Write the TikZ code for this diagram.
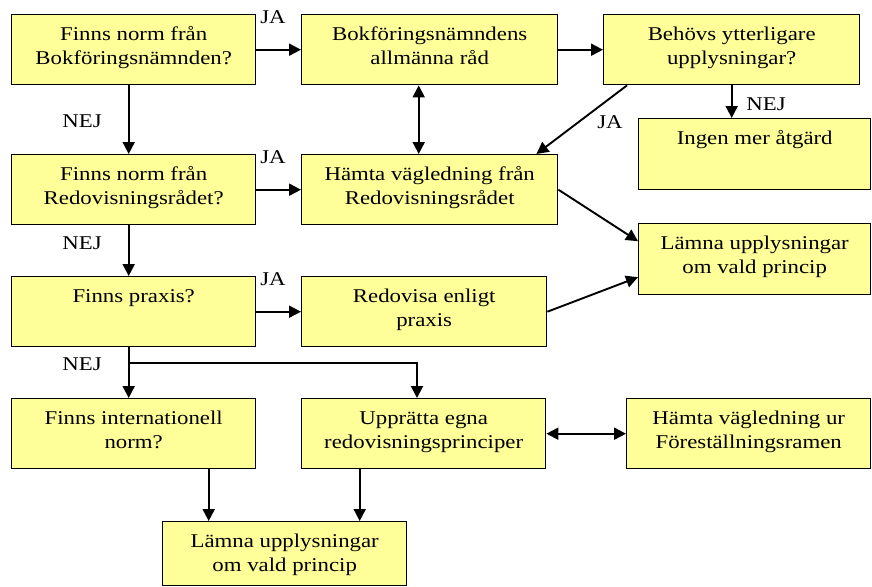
\documentclass[tikz,border=0pt]{standalone}
\usepackage{fontspec}
\setmainfont{Liberation Serif}[FakeStretch=1.17]
\usetikzlibrary{arrows.meta}
\definecolor{boxfill}{RGB}{255,255,153}
\newcommand{\tb}[3]{\parbox[c][#2pt][t]{#1pt}{\centering\rule{0pt}{26pt}#3}}
\begin{document}
\begin{tikzpicture}[x=1pt,y=-1pt,
  box/.style={draw=black, line width=1.4pt, fill=boxfill, inner sep=0pt, anchor=north west, font=\fontsize{19.5}{24}\selectfont},
  arr/.style={line width=1.9pt, -{Triangle[length=12pt,width=12pt]}},
  darr/.style={line width=1.9pt, {Triangle[length=12pt,width=12pt]}-{Triangle[length=12pt,width=12pt]}},
  lbl/.style={font=\fontsize{19.5}{24}\selectfont, inner sep=0pt}]
\useasboundingbox (0,0) rectangle (872,586);
\node[box] (b1) at (11,14) {\tb{244}{70}{Finns norm från\\Bokföringsnämnden?}};
\node[box] (b2) at (301,14) {\tb{256}{70}{Bokföringsnämndens\\allmänna råd}};
\node[box] (b3) at (603,14) {\tb{256}{70}{Behövs ytterligare\\upplysningar?}};
\node[box] (b4) at (638,118) {\tb{232}{71}{Ingen mer åtgärd}};
\node[box] (b5) at (11,154) {\tb{244}{70}{Finns norm från\\Redovisningsrådet?}};
\node[box] (b6) at (301,154) {\tb{256}{70}{Hämta vägledning från\\Redovisningsrådet}};
\node[box] (b7) at (638,223) {\tb{232}{71}{Lämna upplysningar\\om vald princip}};
\node[box] (b8) at (11,276) {\tb{244}{70}{Finns praxis?}};
\node[box] (b9) at (301,276) {\tb{245}{70}{Redovisa enligt\\praxis}};
\node[box] (b10) at (11,398) {\tb{244}{70}{Finns internationell\\norm?}};
\node[box] (b11) at (301,398) {\tb{244}{70}{Upprätta egna\\redovisningsprinciper}};
\node[box] (b12) at (626,398) {\tb{244}{70}{Hämta vägledning ur\\Föreställningsramen}};
\node[box] (b13) at (162,521) {\tb{244}{64}{Lämna upplysningar\\om vald princip}};
% labels
\node[lbl] (ja1) at (273,17) {JA};
\node[lbl] (ja2) at (273,157) {JA};
\node[lbl] (ja3) at (273,279) {JA};
\node[lbl] (ja4) at (610,122) {JA};
\node[lbl] (nej1) at (82,121) {NEJ};
\node[lbl] (nej2) at (82,243) {NEJ};
\node[lbl] (nej3) at (82,364) {NEJ};
\node[lbl] (nej4) at (766,104) {NEJ};
% connectors
\draw[arr] (b1.east) -- (b2.west);
\draw[arr] (b2.east) -- (b3.west);
\draw[arr] ([xshift=-5pt]b1.south) -- ([xshift=-5pt]b5.north);
\draw[darr] ([xshift=-11pt]b2.south) -- ([xshift=-11pt]b6.north);
\draw[arr] (b3.south) -- (b3.south |- b4.north);
\draw[arr] ([xshift=24pt]b3.south west) -- ([xshift=-22pt]b6.north east);
\draw[arr] (b5.east) -- (b6.west);
\draw[arr] (b6.east) -- ([yshift=18pt]b7.west);
\draw[arr] (b9.east) -- ([yshift=-18pt]b7.west);
\draw[arr] ([xshift=-5pt]b5.south) -- ([xshift=-5pt]b8.north);
\draw[arr] (b8.east) -- (b9.west);
\draw[arr] ([xshift=-5pt]b8.south) -- ([xshift=-5pt]b10.north);
\coordinate (br) at (128,363);
\coordinate (bc) at (417,363);
\draw[arr] (br) -- (bc) -- (bc |- b11.north);
\draw[darr] (b11.east) -- (b12.west);
\draw[arr] ([xshift=75pt]b10.south) -- ([xshift=75pt]b10.south |- b13.north);
\draw[arr] ([xshift=-64pt]b11.south) -- ([xshift=-64pt]b11.south |- b13.north);
\end{tikzpicture}
\end{document}
